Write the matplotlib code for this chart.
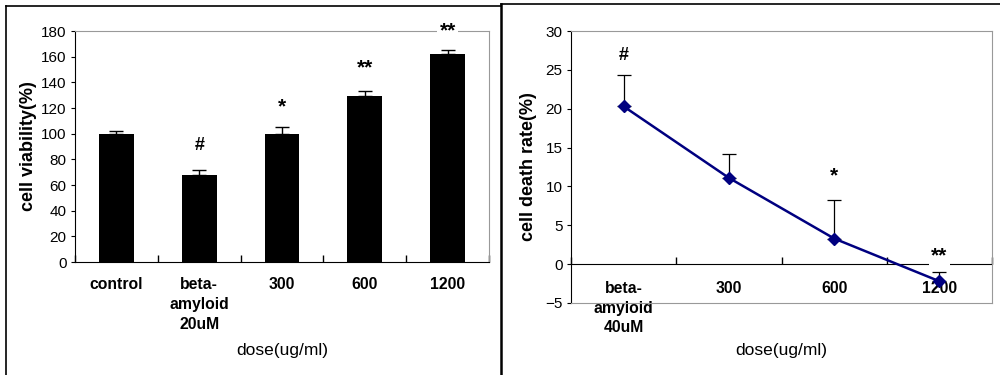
"""
Cell viability / cell death rate charts
"""

import numpy as np
import matplotlib
matplotlib.use('Agg')
import matplotlib.pyplot as plt
from matplotlib.lines import Line2D

plt.rcParams['font.family'] = ['Liberation Sans', 'DejaVu Sans']

# left panel: cell viability
via_labels = ['control', 'beta-\namyloid\n20uM', '300', '600', '1200']
via_values = [100, 68, 100, 129, 162]
via_errors = [2, 3.5, 5.5, 4, 3]
via_marks = ['', '#', '*', '**', '**']
via_mark_y = [0, 91, 121, 151, 180]

# right panel: cell death rate
death_labels = ['beta-\namyloid\n40uM', '300', '600', '1200']
death_values = [20.3, 11.1, 3.3, -2.2]
death_errors = [4.1, 3.1, 5.0, 1.2]
death_marks = ['#', '', '*', '**']
death_mark_y = [26.9, 0, 11.4, 1.0]

GRAY = '#999999'
NAVY = '#000080'


def put_mark(ax, x, y, m, boxed):
    size = 15 if '*' in m else 13
    ax.text(x, y, m, ha='center', va='center', fontsize=size, fontweight='bold',
            clip_on=False, zorder=5,
            bbox=dict(facecolor='white', edgecolor='none', pad=2) if boxed else None)


fig = plt.figure(figsize=(10, 3.75), dpi=100)

# outer frames
fig.add_artist(Line2D([0.006, 0.006], [0, 0.984], color='black', lw=1.2))
fig.add_artist(Line2D([0.006, 0.501], [0.984, 0.984], color='black', lw=1.2))
fig.add_artist(Line2D([0.501, 0.501], [0, 0.99], color='black', lw=1.8))
fig.add_artist(Line2D([0.501, 1.0], [0.99, 0.99], color='black', lw=1.2))

# ---- left: bar chart ----
ax1 = fig.add_axes([0.075, 0.3013, 0.414, 0.616])
x1 = np.arange(len(via_values))
ax1.bar(x1, via_values, width=0.42, color='black', zorder=2)
ax1.errorbar(x1, via_values, yerr=[np.zeros(len(via_errors)), via_errors],
             fmt='none', ecolor='black', elinewidth=1, capsize=5, capthick=1, zorder=2)
ax1.set_xlim(-0.5, len(via_values) - 0.5)
ax1.set_ylim(0, 180)
ax1.set_yticks(np.arange(0, 181, 20))
ax1.set_xticks(x1, via_labels, fontweight='bold', fontsize=11.3, linespacing=1.4)
ax1.set_xticks(np.arange(-0.5, len(via_values)), minor=True)
ax1.tick_params(axis='x', which='major', length=0, pad=11)
ax1.tick_params(axis='x', which='minor', direction='in', length=5, width=1)
ax1.tick_params(axis='y', direction='out', length=3, labelsize=11, pad=3)
for side in ['top', 'right']:
    ax1.spines[side].set_color(GRAY)
for i, m in enumerate(via_marks):
    if m:
        put_mark(ax1, x1[i], via_mark_y[i], m, via_mark_y[i] >= ax1.get_ylim()[1])
ax1.set_ylabel('cell viability(%)', fontsize=13, fontweight='bold')
ax1.set_xlabel('dose(ug/ml)', fontsize=12.5)
ax1.xaxis.set_label_coords(0.5, -0.381)
ax1.xaxis.label.set_va('center')
ax1.yaxis.set_label_coords(-0.092, 0.5)

# ---- right: line chart ----
ax2 = fig.add_axes([0.571, 0.192, 0.421, 0.7253])
x2 = np.arange(len(death_values))
ax2.plot(x2, death_values, color=NAVY, lw=1.8, marker='D', markersize=6.5, zorder=3)
ax2.errorbar(x2, death_values, yerr=[np.zeros(len(death_errors)), death_errors],
             fmt='none', ecolor='black', elinewidth=0.9, capsize=5, capthick=0.9, zorder=2)
ax2.set_xlim(-0.5, len(death_values) - 0.5)
ax2.set_ylim(-5, 30)
ax2.set_yticks(np.arange(-5, 31, 5))
ax2.set_yticklabels([str(v).replace('-', '\u2212') for v in range(-5, 31, 5)])
ax2.set_xticks(x2, death_labels, fontweight='bold', fontsize=11.3, linespacing=1.4)
ax2.tick_params(axis='x', length=0, pad=-16)
ax2.tick_params(axis='y', direction='out', length=3, labelsize=11, pad=3)
for side in ['top', 'right', 'bottom']:
    ax2.spines[side].set_color(GRAY)

# zero line with tick marks at category boundaries
ylo, yhi = ax2.get_ylim()
zero_ax = ax2.secondary_xaxis(-ylo / (yhi - ylo))
zero_ax.set_xticks(np.arange(-0.5, len(death_values)))
zero_ax.set_xticklabels([])
zero_ax.tick_params(direction='in', length=5, width=1)
zero_ax.spines['bottom'].set_color('black')

for i, m in enumerate(death_marks):
    if m:
        put_mark(ax2, x2[i], death_mark_y[i], m, m == '**')
ax2.set_ylabel('cell death rate(%)', fontsize=13, fontweight='bold')
ax2.set_xlabel('dose(ug/ml)', fontsize=12.5)
ax2.xaxis.set_label_coords(0.5, -0.173)
ax2.xaxis.label.set_va('center')
ax2.yaxis.set_label_coords(-0.081, 0.5)

plt.savefig('out.png', dpi=100)
plt.close()
